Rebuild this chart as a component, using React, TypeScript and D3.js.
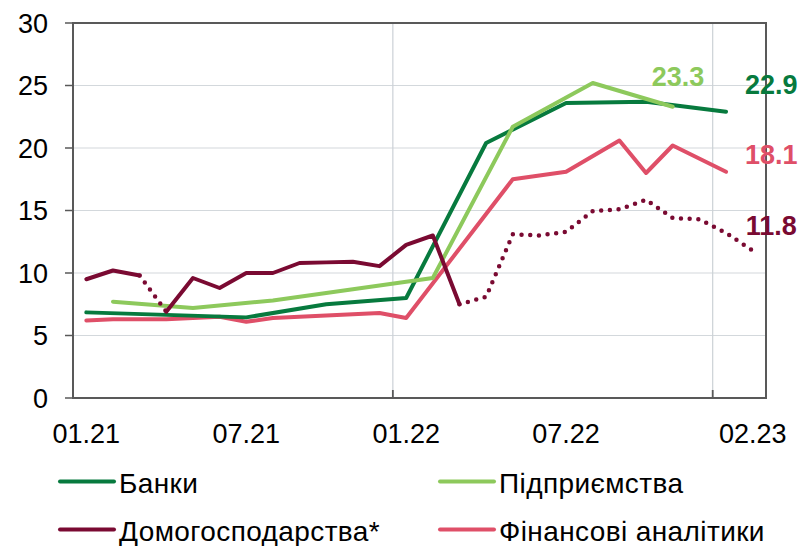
import React from "react";
import * as d3 from "d3";

const months = [
  "01.21", "02.21", "03.21", "04.21", "05.21", "06.21", "07.21", "08.21", "09.21", "10.21", "11.21", "12.21",
  "01.22", "02.22", "03.22", "04.22", "05.22", "06.22", "07.22", "08.22", "09.22", "10.22", "11.22", "12.22",
  "01.23", "02.23",
];
const tickLabelIdx = [0, 6, 12, 18, 25];
const gridBoundaryIdx = [12, 24];
const yTicks = [0, 5, 10, 15, 20, 25, 30];

type V = number | null;
const banks: V[] = [6.85, null, null, 6.65, null, null, 6.45, null, null, 7.5, null, null, 8.0, null, null, 20.4, null, null, 23.6, null, null, 23.7, null, null, 22.9, null];
const enterprises: V[] = [null, 7.7, null, null, 7.2, null, null, 7.8, null, null, 8.7, null, null, 9.6, null, null, 21.7, null, null, 25.2, null, null, 23.3, null, null, null];
const households: V[] = [9.5, 10.2, 9.8, 6.9, 9.6, 8.8, 10.0, 10.0, 10.8, 10.85, 10.9, 10.55, 12.25, 13.0, 7.5, 8.1, 13.1, 13.0, 13.3, 14.95, 15.1, 15.85, 14.4, 14.3, 13.2, 11.8];
const analysts: V[] = [6.2, 6.3, 6.3, 6.3, 6.4, 6.5, 6.1, 6.4, 6.5, 6.6, 6.7, 6.8, 6.4, null, null, null, 17.5, null, 18.1, null, 20.6, 18.0, 20.2, null, 18.1, null];
// household segments: [from, to, dotted]
const householdSegments: [number, number, boolean][] = [
  [0, 2, false], [2, 3, true], [3, 14, false], [14, 25, true],
];

const C_BANKS = "#077a3e";
const C_ENT = "#8dc95c";
const C_HH = "#7a0a32";
const C_AN = "#df4f68";
const FONT = "'Liberation Sans', Arial, sans-serif";

const W = 802, H = 546;
const M = { left: 73, right: 766, top: 23, bottom: 398 };

export default function App() {
  const x = d3.scaleBand<number>().domain(months.map((_, i) => i)).range([M.left, M.right]).padding(0);
  const cx = (i: number) => (x(i) as number) + x.bandwidth() / 2;
  const y = d3.scaleLinear().domain([0, 30]).range([M.bottom, M.top]);

  const pts = (arr: V[]) => arr.map((v, i) => [i, v] as [number, V]).filter((d) => d[1] !== null) as [number, number][];
  const line = d3.line<[number, number]>().x((d) => cx(d[0])).y((d) => y(d[1]));

  const lastOf = (arr: V[]) => {
    const p = pts(arr);
    return p[p.length - 1];
  };

  const series = [
    { data: analysts, color: C_AN },
    { data: banks, color: C_BANKS },
    { data: enterprises, color: C_ENT },
  ];

  const lb = lastOf(banks), le = lastOf(enterprises), lh = lastOf(households), la = lastOf(analysts);

  const legend = [
    { label: "Банки", color: C_BANKS, x: 60, y: 481.5 },
    { label: "Підприємства", color: C_ENT, x: 440, y: 481.5 },
    { label: "Домогосподарства*", color: C_HH, x: 60, y: 529.5 },
    { label: "Фінансові аналітики", color: C_AN, x: 440, y: 529.5 },
  ];

  return (
    <svg width={W} height={H} style={{ position: "absolute", left: 0, top: 0, background: "#fff" }} fontFamily={FONT}>
      {/* gridlines */}
      {yTicks.filter((t) => t > 0 && t < 30).map((t) => (
        <line key={"g" + t} x1={M.left} x2={M.right} y1={y(t)} y2={y(t)} stroke="#d3d8dc" strokeWidth={1.2} />
      ))}
      {gridBoundaryIdx.map((i) => (
        <line key={"v" + i} x1={x(i) as number} x2={x(i) as number} y1={M.top} y2={M.bottom} stroke="#ccd1d6" strokeWidth={1.2} />
      ))}
      {/* y tick marks */}
      {yTicks.map((t) => (
        <line key={"yt" + t} x1={M.left - 8} x2={M.left} y1={y(t)} y2={y(t)} stroke="#595959" strokeWidth={1.5} />
      ))}
      {gridBoundaryIdx.map((i) => (
        <line key={"xt" + i} x1={x(i) as number} x2={x(i) as number} y1={M.bottom - 8} y2={M.bottom} stroke="#595959" strokeWidth={1.8} />
      ))}

      {/* series */}
      {series.map((s, k) => (
        <path key={k} d={line(pts(s.data)) || ""} fill="none" stroke={s.color} strokeWidth={4} strokeLinejoin="round" strokeLinecap="round" />
      ))}
      {householdSegments.map(([a, b, dotted], k) => {
        const seg = pts(households).filter((d) => d[0] >= a && d[0] <= b);
        return (
          <path
            key={"h" + k}
            d={line(seg) || ""}
            fill="none"
            stroke={C_HH}
            strokeWidth={dotted ? 4.5 : 4}
            strokeLinejoin="round"
            strokeLinecap="round"
            strokeDasharray={dotted ? "0 8.7" : undefined}
          />
        );
      })}

      {/* frame */}
      <rect x={M.left} y={M.top} width={M.right - M.left} height={M.bottom - M.top} fill="none" stroke="#595959" strokeWidth={2} />

      {/* y labels */}
      {yTicks.map((t) => (
        <text key={"yl" + t} x={48} y={y(t)} dy="0.36em" textAnchor="end" fontSize={27} fill="#000">
          {t}
        </text>
      ))}
      {/* x labels */}
      {tickLabelIdx.map((i) => (
        <text key={"xl" + i} x={cx(i)} y={443} textAnchor="middle" fontSize={27} fill="#000">
          {months[i]}
        </text>
      ))}

      {/* end labels */}
      <text x={cx(le[0]) - 21} y={y(le[1]) - 21} fontSize={27} fontWeight="bold" fill={C_ENT}>{le[1].toFixed(1)}</text>
      <text x={cx(lb[0]) + 19} y={y(lb[1]) - 18} fontSize={27} fontWeight="bold" fill={C_BANKS}>{lb[1].toFixed(1)}</text>
      <text x={cx(la[0]) + 19} y={y(la[1]) - 8} fontSize={27} fontWeight="bold" fill={C_AN}>{la[1].toFixed(1)}</text>
      <text x={cx(lh[0]) - 7} y={y(lh[1]) - 16} fontSize={27} fontWeight="bold" fill={C_HH}>{lh[1].toFixed(1)}</text>

      {/* legend */}
      {legend.map((l) => (
        <g key={l.label}>
          <line x1={l.x} x2={l.x + 54} y1={l.y} y2={l.y} stroke={l.color} strokeWidth={4} strokeLinecap="round" />
          <text x={l.x + 59} y={l.y + 11} fontSize={28} letterSpacing={0.4} fill="#000">{l.label}</text>
        </g>
      ))}
    </svg>
  );
}
